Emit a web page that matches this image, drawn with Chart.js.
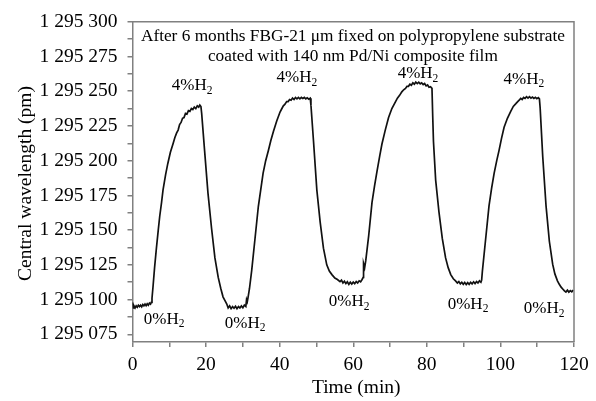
<!DOCTYPE html>
<html><head><meta charset="utf-8">
<script src="https://cdn.jsdelivr.net/npm/chart.js@4/dist/chart.umd.min.js"></script>
<style>html,body{margin:0;padding:0;background:#fff;}#wrap{width:596px;height:401px;}</style>
</head><body><div id="wrap"><canvas id="c" width="596" height="401"></canvas></div>
<script>
const timeMin = [
0,0.2,0.4,0.7,1.0,1.3,1.6,1.9,2.2,2.5,2.8,3.1,3.4,3.7,4.0,4.3,4.6,4.9,5.1,
5.3,5.6,6.0,6.5,7.0,7.4,7.9,8.3,9.0,9.6,10.3,11.0,11.5,12.0,12.4,12.8,13.2,13.6,14.0,14.4,14.8,15.2,15.6,16.0,16.4,16.8,17.2,17.6,18.0,18.3,18.6,
18.8,19.6,20.5,21.5,22.4,23.3,24.0,24.6,25.1,25.6,
26.0,26.4,26.8,27.2,27.6,28.0,28.4,28.8,29.2,29.6,30.0,30.4,30.8,31.0,31.2,31.4,
31.8,32.4,33.3,34.2,35.5,36.2,36.9,37.6,38.3,39.2,40.1,40.5,41.0,41.4,41.9,42.3,42.7,43.1,43.5,43.9,44.3,44.7,45.1,45.5,45.9,46.3,46.7,47.1,47.5,47.9,48.3,
48.5,49.2,50.1,51.0,51.9,52.8,53.5,54.2,55.0,55.7,56.4,56.8,57.2,57.6,58.0,58.4,58.8,59.2,59.6,60.0,60.4,60.8,61.2,61.6,62.0,62.4,62.7,
62.8,63.1,63.4,64.2,65.1,65.8,66.5,67.2,67.8,68.7,69.6,70.5,71.5,72.0,72.6,73.2,73.7,74.2,74.6,75.0,75.4,75.8,76.2,76.6,77.0,77.4,77.8,78.2,78.6,79.0,79.4,79.8,80.2,80.6,81.0,81.4,
81.6,81.8,82.4,83.3,84.2,85.1,85.8,86.5,87.2,87.8,88.3,88.7,89.1,89.5,89.9,90.3,90.7,91.1,91.5,91.9,92.3,92.7,93.1,93.5,93.9,94.3,94.7,94.9,
95.1,96.0,96.9,97.6,98.3,99.0,99.6,100.3,101.0,101.9,102.8,103.5,104.2,104.7,105.1,105.5,105.9,106.3,106.7,107.1,107.5,107.9,108.3,108.7,109.1,109.5,109.9,110.3,110.6,
110.8,111.5,112.4,113.3,114.2,114.8,115.5,116.0,116.5,117.0,117.4,117.8,118.2,118.6,119.0,119.4,119.8
];
const wavelengthPm = [
1295098,1295094,1295095.5,1295094,1295095.5,1295094.5,1295096,1295095,1295096,1295094.8,1295096.5,1295095.5,1295096.8,1295095.6,1295097,1295096,1295097.5,1295096.8,1295098,
1295101,1295110,1295123,1295137,1295150,1295160,1295170,1295179,1295190,1295198,1295206,1295212,1295216.5,1295220,1295222,1295226,1295227.5,1295230.5,1295231,1295234,1295233.5,1295236,1295235.5,1295237.5,1295236.8,1295238.5,1295237.5,1295239.5,1295238.5,1295240,1295239,
1295234,1295207,1295177,1295151,1295130,1295116,1295108,1295102,1295099.5,1295097,
1295094,1295095.5,1295093.5,1295095,1295093.8,1295095.2,1295093.5,1295095,1295094,1295095.5,1295094.2,1295096,1295095,1295100,1295098.5,1295101.5,
1295108,1295121,1295144,1295167,1295191,1295200,1295207,1295214.5,1295221,1295228.5,1295235,1295237,1295239.5,1295240.5,1295242.5,1295242.5,1295244,1295243.5,1295245,1295244,1295245.5,1295244.5,1295245.5,1295244.5,1295245.5,1295244.8,1295245.5,1295244.5,1295245.2,1295244.3,1295245,
1295240,1295214,1295179,1295156,1295137,1295125,1295120.5,1295118,1295115.5,1295114.5,1295113,1295114,1295112,1295113.2,1295111.5,1295112.8,1295111,1295112.5,1295111.2,1295112.6,1295111.5,1295113,1295112,1295113.5,1295112.8,1295114.5,1295116,
1295126,1295123,1295128,1295146,1295170,1295182,1295193,1295203.5,1295212,1295222,1295231,1295237.5,1295242.5,1295245,1295247,1295249.5,1295251,1295252,1295253.5,1295253.5,1295255,1295254.3,1295256,1295255,1295256.5,1295255.5,1295256.5,1295255.3,1295256,1295254.8,1295255.5,1295253.8,1295254.5,1295252.8,1295253.2,1295252,
1295232,1295214,1295186,1295163,1295144,1295130,1295123,1295118,1295115,1295113.5,1295112,1295113,1295111.3,1295112.5,1295111,1295112.4,1295110.8,1295112.2,1295111,1295112.5,1295111.3,1295112.8,1295111.5,1295113,1295112,1295113.5,1295112.5,1295114,
1295120.5,1295144,1295167.5,1295180,1295191,1295200,1295207,1295216,1295224,1295230.5,1295235.5,1295239,1295241,1295242.5,1295243.5,1295244.8,1295244,1295245.5,1295244.8,1295246,1295245,1295246,1295245,1295245.8,1295244.8,1295245.6,1295244.6,1295245.4,1295244.5,
1295238,1295203,1295167.5,1295142,1295125.5,1295118.5,1295113.5,1295111,1295109,1295107.5,1295106.3,1295105.5,1295106.8,1295105.4,1295106.5,1295105.6,1295107
];
const xTickValues = [0,10,20,30,40,50,60,70,80,90,100,110,120];
const xLabelValues = [0,20,40,60,80,100,120];
const yTickValues = [1295075,1295087.5,1295100,1295112.5,1295125,1295137.5,1295150,1295162.5,1295175,1295187.5,1295200,1295212.5,1295225,1295237.5,1295250,1295262.5,1295275,1295287.5,1295300];
const yLabelValues = [1295075,1295100,1295125,1295150,1295175,1295200,1295225,1295250,1295275,1295300];
const highLabelTimes = [16.2,44.7,77.6,106.4];
const highLabelLevels = [1295254,1295259.5,1295262.5,1295258.5];
const lowLabelTimes = [8.6,30.6,58.9,91.2,111.9];
const lowLabelLevels = [1295086,1295083,1295098.5,1295096.5,1295093.5];
const noteLines = ["After 6 months FBG-21 \u03bcm fixed on polypropylene substrate","coated with 140 nm Pd/Ni composite film"];
const noteTime = 59.9;
const noteLevels = [1295289.4,1295275.3];
const xTitle = "Time (min)";
const yTitle = "Central wavelength (pm)";

const SERIF = '"Liberation Serif","Times New Roman",serif';
const AXIS = '#808080';

function fmtY(v){
  const s = String(Math.round(v));
  return s.replace(/\B(?=(\d{3})+(?!\d))/g,' ');
}

const decor = {
  id:'decor',
  afterDraw(chart){
    const {ctx, chartArea:a, scales:{x,y}} = chart;
    ctx.save();
    ctx.strokeStyle = AXIS; ctx.lineWidth = 1.5;
    ctx.beginPath();
    ctx.moveTo(a.left, a.top); ctx.lineTo(a.right, a.top); ctx.lineTo(a.right, a.bottom);
    ctx.stroke();
    ctx.fillStyle = '#000';
    ctx.font = '17.3px '+SERIF; ctx.textAlign='center'; ctx.textBaseline='middle';
    noteLines.forEach((t,i)=>ctx.fillText(t, x.getPixelForValue(noteTime), y.getPixelForValue(noteLevels[i])));
    function h2(label, t, v){
      const px = x.getPixelForValue(t), py = y.getPixelForValue(v);
      ctx.font = '17px '+SERIF;
      const w1 = ctx.measureText(label).width;
      ctx.font = '11.5px '+SERIF;
      const w2 = ctx.measureText('2').width;
      const x0 = px - (w1+w2)/2;
      ctx.textAlign='left'; ctx.textBaseline='middle';
      ctx.font = '17px '+SERIF; ctx.fillText(label, x0, py);
      ctx.font = '11.5px '+SERIF; ctx.fillText('2', x0+w1, py+5);
    }
    highLabelTimes.forEach((t,i)=>h2('4%H', t, highLabelLevels[i]));
    lowLabelTimes.forEach((t,i)=>h2('0%H', t, lowLabelLevels[i]));
    ctx.font = '19.5px '+SERIF; ctx.textAlign='center'; ctx.textBaseline='alphabetic';
    ctx.fillText(xTitle, (a.left+a.right)/2 + 3, 393);
    ctx.save();
    ctx.translate(31, 183.5); ctx.rotate(-Math.PI/2);
    ctx.fillText(yTitle, 0, 0);
    ctx.restore();
    ctx.restore();
  }
};

new Chart(document.getElementById('c'), {
  type:'line',
  data:{ datasets:[{
    data: timeMin.map((t,i)=>({x:t, y:wavelengthPm[i]})),
    borderColor:'#111', borderWidth:1.7, pointRadius:0, tension:0, fill:false
  }]},
  options:{
    responsive:false, animation:false, devicePixelRatio:1,
    layout:{padding:{top:15,right:22,left:0,bottom:0}},
    plugins:{legend:{display:false}, tooltip:{enabled:false}},
    scales:{
      x:{type:'linear', min:0, max:120,
        afterBuildTicks(s){ s.ticks = xTickValues.map(v=>({value:v})); },
        afterFit(s){ s.height = 59; },
        ticks:{ autoSkip:false, maxRotation:0, padding:6, color:'#000', font:{family:SERIF, size:19.5},
          callback:(v)=> xLabelValues.includes(v) ? String(v) : '' },
        grid:{ drawOnChartArea:false, drawTicks:true, tickLength:5, color:AXIS, lineWidth:1.5 },
        border:{ display:true, color:AXIS, width:1.5 }
      },
      y:{type:'linear', min:1295069.5, max:1295300,
        afterBuildTicks(s){ s.ticks = yTickValues.map(v=>({value:v})); },
        afterFit(s){ s.width = 132.5; },
        ticks:{ autoSkip:false, padding:10, color:'#000', font:{family:SERIF, size:19.5},
          callback:(v)=> yLabelValues.includes(v) ? fmtY(v) : '' },
        grid:{ drawOnChartArea:false, drawTicks:true, tickLength:5, color:AXIS, lineWidth:1.5 },
        border:{ display:true, color:AXIS, width:1.5 }
      }
    }
  },
  plugins:[decor]
});
</script></body></html>
